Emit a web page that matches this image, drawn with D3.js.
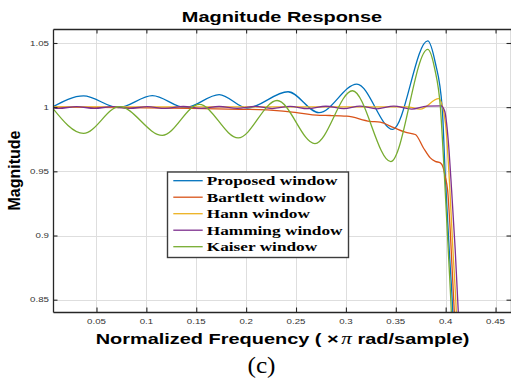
<!DOCTYPE html>
<html>
<head>
<meta charset="utf-8">
<script src="https://cdn.jsdelivr.net/npm/d3@7"></script>
<style>
  html, body { margin: 0; padding: 0; background: #fff; }
  svg { display: block; }
</style>
</head>
<body>
<svg id="chart" width="511" height="383"></svg>
<script>
// ---- axis ticks ----
const xTickValues = [0.05, 0.1, 0.15, 0.2, 0.25, 0.3, 0.35, 0.4, 0.45];
const xTickLabels = ["0.05", "0.1", "0.15", "0.2", "0.25", "0.3", "0.35", "0.4", "0.45"];
const yTickValues = [0.85, 0.9, 0.95, 1, 1.05];
const yTickLabels = ["0.85", "0.9", "0.95", "1", "1.05"];

// ---- series ----
const seriesNames = ["Proposed window", "Bartlett window", "Hann window", "Hamming window", "Kaiser window"];
const seriesColors = ["#0072BD", "#D95319", "#EDB120", "#7E2F8E", "#77AC30"];

const proposedFreq = [0.006, 0.037, 0.072, 0.106, 0.139, 0.173, 0.201, 0.242, 0.273, 0.311, 0.347, 0.382, 0.3895, 0.3965, 0.3997, 0.4035, 0.4072, 0.411];
const proposedMag  = [1.0002, 1.0088, 0.9997, 1.0090, 0.9996, 1.0098, 0.9993, 1.0120, 0.9957, 1.0180, 0.9827, 1.0516, 1.0350, 1.0000, 0.9450, 0.8900, 0.8400, 0.7600];

const bartlettFreq = [0.006, 0.05, 0.10, 0.145, 0.194, 0.204, 0.237, 0.244, 0.274, 0.284, 0.301, 0.324, 0.3344, 0.348, 0.3595, 0.3696, 0.3779, 0.3846, 0.3896, 0.3947, 0.3975, 0.3995, 0.402, 0.4045, 0.4087, 0.413];
const bartlettMag  = [1.0000, 0.9998, 0.9995, 0.9990, 0.9983, 0.9982, 0.9969, 0.9964, 0.9936, 0.9935, 0.9930, 0.9890, 0.9883, 0.9840, 0.9805, 0.9787, 0.9680, 0.9605, 0.9578, 0.9566, 0.9530, 0.9460, 0.9350, 0.9050, 0.8400, 0.7600];

const hannFreq = [0.006, 0.10, 0.20, 0.30, 0.361, 0.3746, 0.393, 0.3997, 0.4037, 0.4072, 0.4107, 0.415];
const hannMag  = [1.0003, 1.0003, 1.0003, 1.0003, 1.0003, 0.9984, 1.0066, 0.9880, 0.9434, 0.8900, 0.8400, 0.7400];

const hammingFreq = [0.006, 0.012, 0.030, 0.048, 0.066, 0.083, 0.101, 0.119, 0.137, 0.155, 0.173, 0.191, 0.209, 0.226, 0.244, 0.262, 0.280, 0.298, 0.314, 0.331, 0.348, 0.366, 0.381, 0.3955, 0.399, 0.4025, 0.406, 0.4095, 0.4127, 0.417];
const hammingMag  = [0.9996, 0.9991, 1.0004, 0.9991, 1.0004, 0.9991, 1.0004, 0.9990, 1.0005, 0.9990, 1.0005, 0.9990, 1.0006, 0.9989, 1.0006, 0.9988, 1.0007, 0.9988, 1.0008, 0.9987, 1.0008, 0.9985, 1.0008, 1.0010, 0.9970, 0.9750, 0.9350, 0.8900, 0.8400, 0.7500];

const kaiserFreq = [0.006, 0.037, 0.073, 0.116, 0.153, 0.192, 0.231, 0.269, 0.3066, 0.345, 0.382, 0.389, 0.3947, 0.399, 0.4025, 0.4057, 0.410];
const kaiserMag  = [0.9993, 0.9795, 1.0004, 0.9780, 1.0021, 0.9760, 1.0052, 0.9716, 1.0128, 0.9576, 1.0451, 1.0300, 1.0000, 0.9430, 0.8900, 0.8400, 0.7400];

const series = [
  { name: seriesNames[0], color: seriesColors[0], freq: proposedFreq, mag: proposedMag },
  { name: seriesNames[1], color: seriesColors[1], freq: bartlettFreq, mag: bartlettMag },
  { name: seriesNames[2], color: seriesColors[2], freq: hannFreq,     mag: hannMag },
  { name: seriesNames[3], color: seriesColors[3], freq: hammingFreq,  mag: hammingMag },
  { name: seriesNames[4], color: seriesColors[4], freq: kaiserFreq,   mag: kaiserMag }
];

// ---- layout ----
const W = 511, H = 383;
const plot = { left: 53, right: 511, top: 29, bottom: 312 };
const SX = 1.33;              // horizontal text widening
const sans = "'Liberation Sans', Arial, Helvetica, sans-serif";
const serif = "'Liberation Serif', 'Times New Roman', Times, serif";
const axisColor = "#262626";

const x = d3.scaleLinear().domain([0.0064, 0.4655]).range([plot.left, plot.right]);
const y = d3.scaleLinear().domain([0.8404, 1.0609]).range([plot.bottom, plot.top]);

const svg = d3.select("#chart");
svg.append("rect").attr("width", W).attr("height", H).attr("fill", "#fff");

// widened text helper
function wideText(parent, px, py, str, opts) {
  const t = parent.append("text")
    .attr("transform", `translate(${px},${py}) scale(${opts.sx ?? SX},1)`)
    .attr("text-anchor", opts.anchor || "middle")
    .attr("font-family", opts.family || sans)
    .attr("font-size", opts.size)
    .attr("font-weight", opts.weight || "normal")
    .attr("fill", opts.fill || "#000");
  if (str !== null) t.text(str);
  return t;
}

// grid
const grid = svg.append("g").attr("stroke", "#dedede").attr("stroke-width", 1);
grid.selectAll("line.gx").data(xTickValues).join("line").attr("class", "gx")
  .attr("x1", d => Math.round(x(d)) + 0.5).attr("x2", d => Math.round(x(d)) + 0.5)
  .attr("y1", plot.top).attr("y2", plot.bottom);
grid.selectAll("line.gy").data(yTickValues).join("line").attr("class", "gy")
  .attr("y1", d => Math.round(y(d)) + 0.5).attr("y2", d => Math.round(y(d)) + 0.5)
  .attr("x1", plot.left).attr("x2", plot.right);

// curves
svg.append("defs").append("clipPath").attr("id", "plotClip").append("rect")
  .attr("x", plot.left).attr("y", plot.top)
  .attr("width", plot.right - plot.left).attr("height", plot.bottom - plot.top);

const line = d3.line().x(d => x(d[0])).y(d => y(d[1])).curve(d3.curveMonotoneX);
svg.append("g").attr("clip-path", "url(#plotClip)")
  .selectAll("path").data(series).join("path")
  .attr("d", s => line(d3.zip(s.freq, s.mag)))
  .attr("fill", "none")
  .attr("stroke", s => s.color)
  .attr("stroke-width", 1.3)
  .attr("stroke-linejoin", "round");

// axes (ticks point inward on all four sides)
const tick = 4.5;
function styleAxis(g) {
  g.selectAll("path.domain").attr("stroke", axisColor).attr("stroke-width", 1.3);
  g.selectAll(".tick line").attr("stroke", axisColor).attr("stroke-width", 1.1);
  g.selectAll(".tick text").remove();
}
svg.append("g").attr("transform", `translate(0,${plot.bottom})`)
  .call(d3.axisBottom(x).tickValues(xTickValues).tickSize(-tick).tickSizeOuter(0)).call(styleAxis);
svg.append("g").attr("transform", `translate(0,${plot.top})`)
  .call(d3.axisTop(x).tickValues(xTickValues).tickSize(-tick).tickSizeOuter(0)).call(styleAxis);
svg.append("g").attr("transform", `translate(${plot.left},0)`)
  .call(d3.axisLeft(y).tickValues(yTickValues).tickSize(-tick).tickSizeOuter(0)).call(styleAxis);
svg.append("g").attr("transform", `translate(${plot.right},0)`)
  .call(d3.axisRight(y).tickValues(yTickValues).tickSize(-tick).tickSizeOuter(0)).call(styleAxis);

// tick labels
const tl = svg.append("g");
xTickValues.forEach((v, i) => wideText(tl, x(v), plot.bottom + 12, xTickLabels[i], { size: 7.3, fill: "#333" }));
yTickValues.forEach((v, i) => wideText(tl, plot.left - 4, y(v) + 2.7, yTickLabels[i], { size: 7.3, fill: "#333", anchor: "end" }));

// title and axis labels
wideText(svg, (plot.left + plot.right) / 2, 21.5, "Magnitude Response", { size: 15, weight: "bold" });
const xl = wideText(svg, (plot.left + plot.right) / 2 + 0.5, 344, null, { size: 15, weight: "bold" });
xl.append("tspan").text("Normalized Frequency ( \u00D7");
xl.append("tspan").attr("font-family", serif).attr("font-style", "italic").attr("font-weight", "normal")
  .attr("font-size", 16).attr("dx", 2).text("\u03C0");
xl.append("tspan").text(" rad/sample)");
svg.append("text")
  .attr("transform", `translate(20,${(plot.top + plot.bottom) / 2}) rotate(-90)`)
  .attr("text-anchor", "middle")
  .attr("font-family", sans).attr("font-size", 16).attr("font-weight", "bold")
  .attr("fill", "#000")
  .text("Magnitude");

// legend
const legend = { x: 167, y: 171.5, w: 181, h: 85.5, rowStart: 180.7, rowStep: 16.5 };
const lg = svg.append("g");
lg.append("rect")
  .attr("x", legend.x + 0.5).attr("y", legend.y + 0.5)
  .attr("width", legend.w).attr("height", legend.h)
  .attr("fill", "#fff").attr("stroke", "#3c3c3c").attr("stroke-width", 1.4);
series.forEach((s, i) => {
  const ry = legend.rowStart + i * legend.rowStep;
  lg.append("line")
    .attr("x1", legend.x + 6.3).attr("x2", legend.x + 35.7)
    .attr("y1", ry).attr("y2", ry)
    .attr("stroke", s.color).attr("stroke-width", 1.3);
  wideText(lg, legend.x + 39.7, ry + 4.3, s.name, { size: 13, weight: "bold", family: serif, anchor: "start" });
});

// panel caption
wideText(svg, 261.5, 373, "(c)", { size: 23, family: serif, sx: 1.1 });
</script>
</body>
</html>
